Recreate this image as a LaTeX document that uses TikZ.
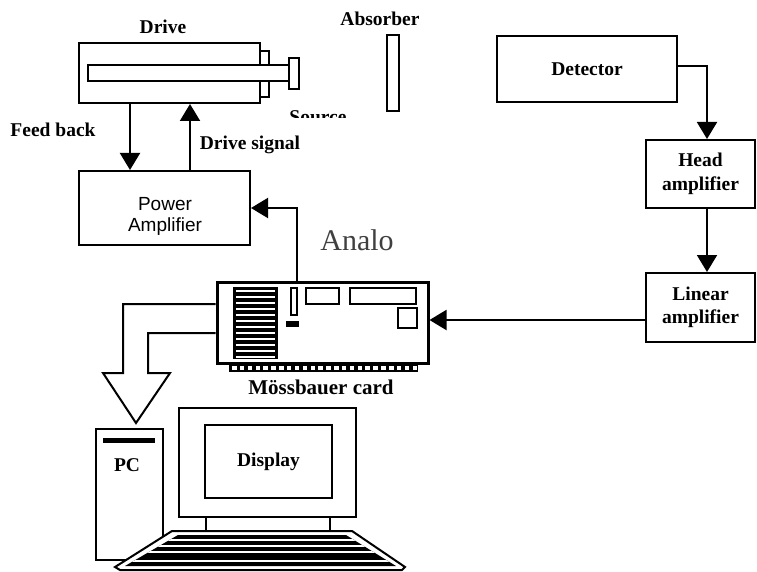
\documentclass[tikz,border=0pt]{standalone}
\usepackage{fontspec}
\setmainfont{Liberation Serif}
\setsansfont{Liberation Sans}
\usetikzlibrary{arrows.meta}

\begin{document}
\begin{tikzpicture}[x = 1pt, y = -1pt, line width = 2pt, >= {Triangle[length = 17pt, width = 20pt]},
    box/.style = {draw, rectangle, inner sep = 0pt, align = center},
    bold/.style = {font = \bfseries\fontsize{19.5}{23.5}\selectfont}]
  \useasboundingbox (0,0) rectangle (757,572);

  % drive, rod and source
  \node[box, minimum width = 181pt, minimum height = 60pt] (drive) at (169.5,73) {};
  \draw (260,51) rectangle (269,97);
  \draw[fill = white] (88,65) rectangle (289,81);
  \draw (289,58) rectangle (299,89);
  \node[bold] (drivelabel) at (163,27) {Drive};
  \begin{scope}
    \clip (280,100) rectangle (360,118);
    \node[bold] (source) at (318,117) {Source};
  \end{scope}

  % absorber
  \node[box, minimum width = 12pt, minimum height = 76pt] (absorber) at (393,73) {};
  \node[bold] (absorberlabel) at (380,19) {Absorber};

  % detector chain
  \node[box, bold, minimum width = 180pt, minimum height = 66pt] (detector) at (587,69) {Detector};
  \node[box, bold, minimum width = 109pt, minimum height = 68pt] (head) at (700.5,174) {Head\\amplifier};
  \node[box, bold, minimum width = 109pt, minimum height = 69pt] (linear) at (700.5,307.5) {Linear\\amplifier};

  % power amplifier
  \node[box, minimum width = 171pt, minimum height = 74pt] (power) at (164.5,208) {};
  \node[font = \sffamily\fontsize{19}{21}\selectfont, align = center] (powertext) at (165,216.5) {Power\\Amplifier};
  \node[font = \fontsize{30}{30}\selectfont, text = black!75] (analog) at (357,240) {Analo};

  % the card
  \node[box, line width = 3pt, minimum width = 211pt, minimum height = 81pt] (card) at (322.5,322.5) {};
  \fill (233,287) rectangle (278,359);
  \foreach \y in {291,297,...,357}
    \draw[white, line width = 1.2pt] (236,\y) -- (275,\y);
  \begin{scope}[line width = 1.6pt]
    \draw (291,288) rectangle (297,315);
    \fill (286,321) rectangle (299,327);
    \draw (306,288) rectangle (339,304);
    \draw (350,288) rectangle (416,304);
    \draw (398,308) rectangle (417,328);
  \end{scope}
  \fill (229,364) rectangle (418,372);
  \foreach \i in {0,...,23}
    \fill[white] ({232 + 7.85*\i},366) rectangle ++(4.5,4);
  \node[bold, font = \bfseries\fontsize{21}{25}\selectfont] (cardlabel) at (321,387) {Mössbauer card};

  % connectors
  \coordinate (fb) at (130,0);
  \coordinate (ds) at (190,0);
  \coordinate (dh) at (707,66);
  \coordinate (lc) at (0,320);
  \coordinate (ca) at (297,0);
  \draw[->] (fb |- drive.south) -- (fb |- power.north);
  \draw[->] (ds |- power.north) -- (ds |- drive.south);
  \node[bold] (fblabel) at (53,130) {Feed back};
  \node[bold] (dslabel) at (250,145) {Drive signal};
  \draw[->] (detector.east |- dh) -| (dh |- head.north);
  \draw[->] (dh |- head.south) -- (dh |- linear.north);
  \draw[->] (linear.west |- lc) -- (card.east |- lc);
  \draw[->] (ca |- card.north) |- (power.east);

  % wide arrow down to the pc
  \coordinate (bus1) at (0,304);
  \coordinate (bus2) at (0,333);
  \draw[line join = miter] (card.west |- bus1) -- (123,304) -- (123,373) -- (103,373)
    -- (136,423) -- (170,373) -- (148,373) -- (148,333) -- (card.west |- bus2);

  % pc and monitor
  \node[box, minimum width = 67pt, minimum height = 131pt] (pc) at (129.5,494.5) {};
  \fill (103,438) rectangle (155,443);
  \node[bold] (pclabel) at (127,465) {PC};
  \node[box, minimum width = 177pt, minimum height = 109pt] (monitor) at (267.5,462.5) {};
  \node[box, bold, minimum width = 127pt, minimum height = 73pt] (display) at (268.5,461.5) {Display};
  \draw (206,517) -- (206,531);
  \draw (330,517) -- (330,531);

  % keyboard
  \draw[fill = white, line join = miter] (172,531) -- (352,531) -- (405,567) -- (402,570)
    -- (120,570) -- (115,567) -- cycle;
  \begin{scope}
    \clip (178,535) -- (346,535) -- (396,566) -- (125,566) -- cycle;
    \fill (120,530) rectangle (410,570);
    \foreach \y in {540,546,552,561}
      \draw[white, line width = 1.2pt] (120,\y) -- (410,\y);
  \end{scope}
\end{tikzpicture}
\end{document}
